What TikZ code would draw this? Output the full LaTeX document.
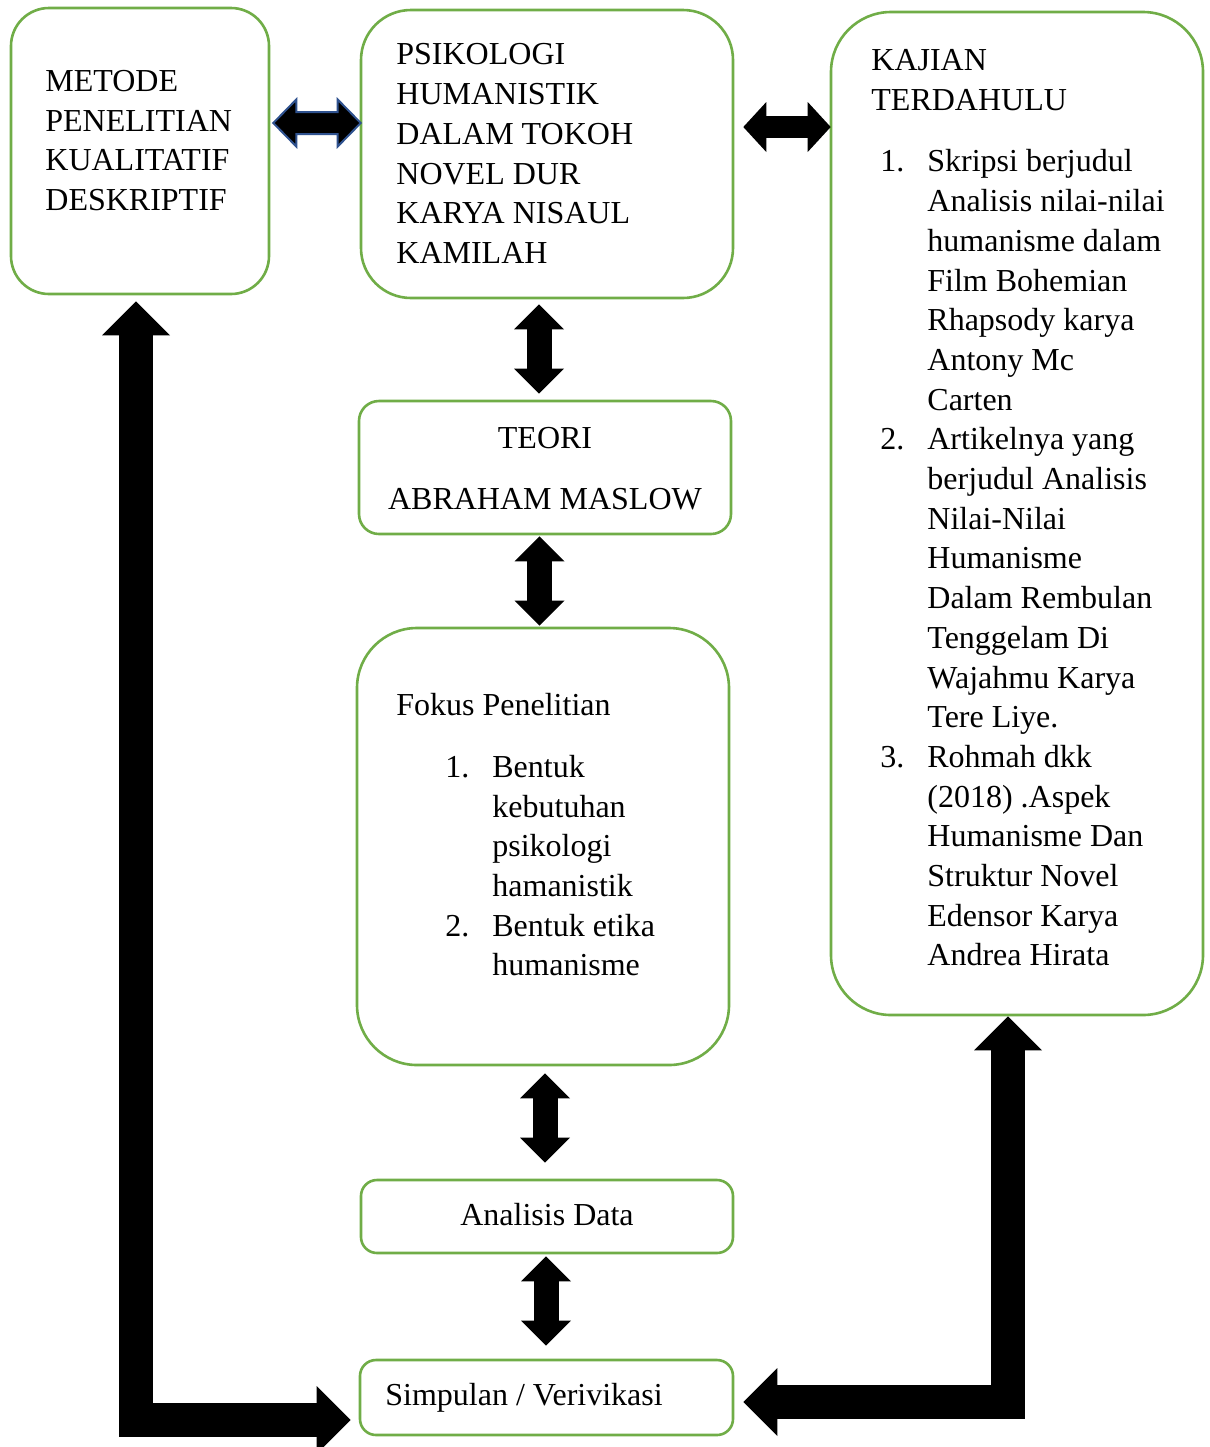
\documentclass[tikz,border=0pt]{standalone}
\usepackage{fontspec}
\setmainfont{Liberation Serif}
\usetikzlibrary{arrows.meta,fit,calc}
\definecolor{grn}{HTML}{70AD47}
\definecolor{bluel}{HTML}{2F528F}
\newcommand{\lnum}[1]{\makebox[23.5pt][l]{#1}}
\newcommand{\lind}{\hspace*{23.5pt}}
\begin{document}
\begin{tikzpicture}[x=0.5pt,y=-0.5pt,
  box/.style={draw=grn, line width=1.3pt, rounded corners=#1, inner sep=0pt},
  box/.default=10pt,
  txt/.style={inner sep=0pt, anchor=north west, align=left, font=\fontsize{16}{19.85}\selectfont},
  vtip/.style={Triangle[length=12.5pt,width=25pt,line width=0pt]},
  htip/.style={Triangle[length=11.5pt,width=25pt,line width=0pt]},
  ltip/.style={Triangle[length=17pt,width=34pt,line width=0pt]},
  vda/.style={line width=12.5pt, {Triangle[length=12.5pt,width=25pt,line width=0pt]}-{Triangle[length=12.5pt,width=25pt,line width=0pt]}},
  hda/.style={line width=11pt, {Triangle[length=11.5pt,width=25pt,line width=0pt]}-{Triangle[length=11.5pt,width=25pt,line width=0pt]}},
  lda/.style={line width=17pt, line join=miter, {Triangle[length=17pt,width=34pt,line width=0pt]}-{Triangle[length=17pt,width=34pt,line width=0pt]}}]
\useasboundingbox (0,0) rectangle (1210,1447);
\fill[white] (0,0) rectangle (1210,1447);

% boxes
\node[box=19pt, fit={(11,8) (269,294)}] (m) {};
\node[box=25pt, fit={(361,10) (733,298)}] (p) {};
\node[box=30pt, fit={(831,12) (1203,1015)}] (k) {};
\node[box=10pt, fit={(359,401) (731,534)}] (t) {};
\node[box=30pt, fit={(357,628) (729,1065)}] (f) {};
\node[box=8pt, fit={(361,1180) (733,1253)}] (a) {};
\node[box=8pt, fit={(360,1360) (733,1435)}] (s) {};

% texts
\node[txt] (mt) at (45,63.2) {\strut METODE\\PENELITIAN\\KUALITATIF\\DESKRIPTIF};
\node[txt] (pt) at (396,36.8) {\strut PSIKOLOGI\\HUMANISTIK\\DALAM TOKOH\\NOVEL DUR\\KARYA NISAUL\\KAMILAH};
\node[txt] (kt) at (871,42.8) {\strut KAJIAN\\TERDAHULU};
\node[txt] (kl) at (880,143.7) {\strut\lnum{1.}Skripsi berjudul\\\lind Analisis nilai-nilai\\\lind humanisme dalam\\\lind Film Bohemian\\\lind Rhapsody karya\\\lind Antony Mc\\\lind Carten\\\lnum{2.}Artikelnya yang\\\lind berjudul Analisis\\\lind Nilai-Nilai\\\lind Humanisme\\\lind Dalam Rembulan\\\lind Tenggelam Di\\\lind Wajahmu Karya\\\lind Tere Liye.\\\lnum{3.}Rohmah dkk\\\lind (2018) .Aspek\\\lind Humanisme Dan\\\lind Struktur Novel\\\lind Edensor Karya\\\lind Andrea Hirata};
\node[txt, align=center, anchor=north] (tt) at (545,420.7) {\strut TEORI\\[10.6pt]ABRAHAM MASLOW};
\node[txt] (ft) at (396,687.5) {\strut Fokus Penelitian};
\node[txt] (fl) at (445,749.2) {\strut\lnum{1.}Bentuk\\\lind kebutuhan\\\lind psikologi\\\lind hamanistik\\\lnum{2.}Bentuk etika\\\lind humanisme};
\node[txt, anchor=north] (at) at (547,1197) {\strut Analisis Data};
\node[txt] (st) at (385,1377.5) {\strut Simpulan / Verivikasi};

% horizontal double arrows
\coordinate (l1) at ([shift={(3,-28)}]m.east);
\coordinate (l2) at ($(p.west |- l1)+(1,0)$);
\filldraw[fill=black, draw=bluel, line width=1pt, line join=miter]
  (l1) -- ++(23,-23.5) -- ++(0,12.5) -- ($(l2)+(-23,-11)$) -- ++(0,-12.5) -- (l2)
  -- ++(-23,23.5) -- ++(0,-12.5) -- ($(l1)+(23,11)$) -- ++(0,12.5) -- cycle;

\coordinate (r1) at ([shift={(9,-27)}]p.east);
\coordinate (r2) at ($(k.west |- r1)+(1,0)$);
\draw[hda] (r1) -- (r2);

% vertical double arrows
\draw[vda] ([shift={(-8,5)}]p.south) -- ([shift={(-6,-6)}]t.north);
\draw[vda] ([shift={(-5.5,1)}]t.south) -- ([shift={(-3.5,-1)}]f.north);
\draw[vda] ([shift={(2,7)}]f.south) -- ([shift={(-2,-16)}]a.north);
\draw[vda] ([shift={(-1,2)}]a.south) -- ([shift={(-0.5,-13)}]s.north);

% L-shaped arrows
\draw[lda] ([shift={(-4,6)}]m.south) |- ([shift={(-8,22.5)}]s.west);
\draw[lda] ([shift={(-9,0)}]k.south) |- ([shift={(9,4.5)}]s.east);
\end{tikzpicture}
\end{document}
